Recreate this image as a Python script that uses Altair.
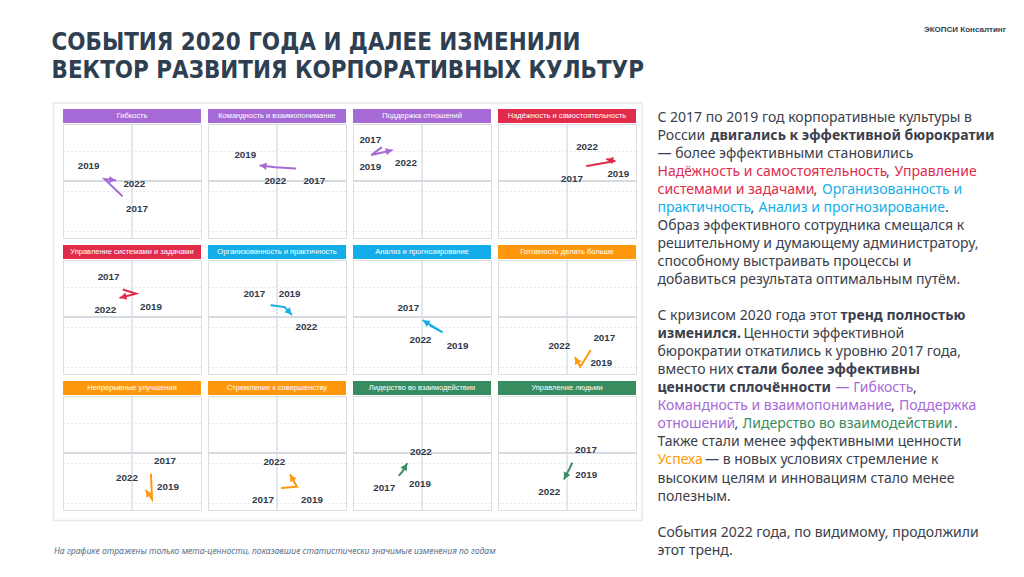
import math
import altair as alt
import pandas as pd

# ---------------- data ----------------
PANELS = [
    "Гибкость", "Командность и взаимопонимание", "Поддержка отношений", "Надёжность и самостоятельность",
    "Управление системами и задачами", "Организованность и практичность", "Анализ и прогнозирование",
    "Готовность делать больше", "Непрерывные улучшения", "Стремление к совершенству",
    "Лидерство во взаимодействии", "Управление людьми",
]
GROUPS = ["cohesion", "cohesion", "cohesion", "bureaucracy", "bureaucracy", "order", "order",
          "success", "success", "success", "leadership", "leadership"]
YEARS = ["2017", "2019", "2022"]
X_VALUES = [
    [-0.58, -1.59, -0.97],
    [1.06, -0.10, -0.97],
    [-2.36, -2.94, -1.74],
    [1.16, 2.80, 2.32],
    [-0.49, 0.23, -0.68],
    [-0.33, 0.44, 0.83],
    [0.48, 1.19, 0.08],
    [1.35, 0.77, 0.48],
    [1.10, 1.16, 0.81],
    [0.29, 1.16, 0.77],
    [-1.32, -1.16, -0.88],
    [0.29, 0.13, -0.16],
]
Y_VALUES = [
    [-1.47, 0.19, 0.07],
    [1.25, 1.38, 1.54],
    [3.34, 2.60, 3.08],
    [1.51, 1.99, 2.18],
    [2.72, 2.34, 1.92],
    [1.18, 0.99, 0.26],
    [-0.87, -1.54, -0.35],
    [-3.37, -4.97, -4.07],
    [-2.14, -4.62, -3.75],
    [-3.49, -3.37, -2.21],
    [-2.21, -1.92, -1.09],
    [-1.03, -1.61, -2.57],
]

TITLE_LINES = ["СОБЫТИЯ 2020 ГОДА И ДАЛЕЕ ИЗМЕНИЛИ", "ВЕКТОР РАЗВИТИЯ КОРПОРАТИВНЫХ КУЛЬТУР"]
BRAND = "ЭКОПСИ Консалтинг"
FOOTNOTE = "На графике отражены только мета-ценности, показавшие статистически значимые изменения по годам"

# right-hand commentary: (line index, [(text, style)])
TEXT_LINES = [
    (0, [("С 2017 по 2019 год корпоративные культуры в", "n")]),
    (1, [("России", "n"), ("двигались к эффективной бюрократии", "b")]),
    (2, [("— более эффективными становились", "n")]),
    (3, [("Надёжность и самостоятельность", "bureaucracy"), (",", "n"), ("Управление", "bureaucracy")]),
    (4, [("системами и задачами", "bureaucracy"), (",", "n"), ("Организованность и", "order")]),
    (5, [("практичность", "order"), (",", "n"), ("Анализ и прогнозирование", "order"), (".", "n")]),
    (6, [("Образ эффективного сотрудника смещался к", "n")]),
    (7, [("решительному и думающему администратору,", "n")]),
    (8, [("способному выстраивать процессы и", "n")]),
    (9, [("добавиться результата оптимальным путём.", "n")]),
    (11, [("С кризисом 2020 года этот", "n"), ("тренд полностью", "b")]),
    (12, [("изменился.", "b"), ("Ценности эффективной", "n")]),
    (13, [("бюрократии откатились к уровню 2017 года,", "n")]),
    (14, [("вместо них", "n"), ("стали более эффективны", "b")]),
    (15, [("ценности сплочённости", "b"), ("— Гибкость", "cohesion"), (",", "n")]),
    (16, [("Командность и взаимопонимание", "cohesion"), (",", "n"), ("Поддержка", "cohesion")]),
    (17, [("отношений", "cohesion"), (",", "n"), ("Лидерство во взаимодействии", "leadership"), (".", "n")]),
    (18, [("Также стали менее эффективными ценности", "n")]),
    (19, [("Успеха", "success"), ("— в новых условиях стремление к", "n")]),
    (20, [("высоким целям и инновациям стало менее", "n")]),
    (21, [("полезным.", "n")]),
    (23, [("События 2022 года, по видимому, продолжили", "n")]),
    (24, [("этот тренд.", "n")]),
]

# ---------------- layout / style ----------------
GROUP_COLORS = {
    "cohesion": "#a66ad6",
    "bureaucracy": "#e12b4b",
    "order": "#13aeea",
    "success": "#ff980d",
    "leadership": "#378c60",
}
TEXT_DARK = "#3a404c"
TITLE_COLOR = "#2f3f52"
LABEL_COLOR = "#2f3949"
GRID_COLOR = "#dde0e6"
ZERO_COLOR = "#d6dae1"

W, H = 138, 114
X_DOMAIN = [-4, 4]
Y_DOMAIN = [-5.7, 5.7]
KX = W / (X_DOMAIN[1] - X_DOMAIN[0])
KY = H / (Y_DOMAIN[1] - Y_DOMAIN[0])

# label nudges in pixels (dx right, dy down) relative to each year's point
LABEL_NUDGE_PX = [
    [(15, 13), (-16, -13), (19, 4)],
    [(19, 12), (-30, -12), (15, 15)],
    [(-11, -8), (-1, 12), (14, 13)],
    [(-15, 13), (3, 13), (-20, -12)],
    [(-15, -13), (15, 13), (-15, 12)],
    [(-17, -11), (5, -13), (15, 13)],
    [(-22, -18), (15, 14), (-3, 19)],
    [(14, -13), (21, -4), (-16, -12)],
    [(14, -13), (16, -12), (-19, -13)],
    [(-19, 12), (15, 13), (-16, -13)],
    [(-15, 13), (18, 12), (14, -12)],
    [(14, -13), (17, 6), (-15, 13)],
]

# page position of first panel's plot area; decorations are placed relative to it
ORIGIN_X, ORIGIN_Y = 62, 123
TEXT_X = 656.5
TEXT_TOP = 116.5
TEXT_STEP = 18.05
SEGMENT_X = {  # page x of segments that do not start a line
    (1, 1): 709.5,
    (3, 1): 885.0, (3, 2): 893.5,
    (4, 1): 812.5, (4, 2): 821.0,
    (5, 1): 749.5, (5, 2): 757.5, (5, 3): 944.0,
    (11, 1): 839.5,
    (12, 1): 742.5,
    (14, 1): 735.5,
    (15, 1): 834.5, (15, 2): 912.0,
    (16, 1): 890.0, (16, 2): 898.0,
    (17, 1): 733.5, (17, 2): 741.5, (17, 3): 953.0,
    (19, 1): 704.0,
}

BODY_FONT = "Noto Sans"
LABEL_FONT = "Liberation Sans"
TITLE_FONT = "DejaVu Sans Condensed"

ONE = pd.DataFrame({"k": [0]})
X_GRID = list(range(-4, 5))
Y_GRID = list(range(-5, 6))


def xenc(field):
    return alt.X(f"{field}:Q", scale=alt.Scale(domain=X_DOMAIN, nice=False, zero=False),
                 axis=alt.Axis(values=X_GRID, grid=True, labels=False, ticks=False, domain=False,
                               title=None, gridDash=[1.5, 2.5], gridColor=GRID_COLOR, gridWidth=1))


def yenc(field):
    return alt.Y(f"{field}:Q", scale=alt.Scale(domain=Y_DOMAIN, nice=False, zero=False),
                 axis=alt.Axis(values=Y_GRID, grid=True, labels=False, ticks=False, domain=False,
                               title=None, gridDash=[1.5, 2.5], gridColor=GRID_COLOR, gridWidth=1))


def deco_text(text, px, py, size, color, font, weight="normal", style="normal", align="left",
              baseline="middle"):
    return alt.Chart(ONE).mark_text(
        text=text, fontSize=size, color=color, font=font, fontWeight=weight, fontStyle=style,
        align=align, baseline=baseline,
    ).encode(x=alt.value(px - ORIGIN_X), y=alt.value(py - ORIGIN_Y))


def decorations():
    layers = []
    # invisible frame that pins the page extent
    layers.append(alt.Chart(ONE).mark_rect(opacity=0).encode(
        x=alt.value(8 - ORIGIN_X), x2=alt.value(1010 - ORIGIN_X),
        y=alt.value(8 - ORIGIN_Y), y2=alt.value(560 - ORIGIN_Y)))
    # light border around the small multiples
    layers.append(alt.Chart(ONE).mark_rect(fillOpacity=0, stroke="#e4e6eb", strokeWidth=1.5).encode(
        x=alt.value(52.5 - ORIGIN_X), x2=alt.value(641 - ORIGIN_X),
        y=alt.value(102 - ORIGIN_Y), y2=alt.value(519.5 - ORIGIN_Y)))
    # title
    for k, line in enumerate(TITLE_LINES):
        layers.append(deco_text(line, 50.5, 48.5 + 28.4 * k, 23.9, TITLE_COLOR, TITLE_FONT,
                                weight="bold", baseline="alphabetic"))
    layers.append(deco_text(BRAND, 1005, 29, 8, TITLE_COLOR, LABEL_FONT, weight="bold", align="right"))
    layers.append(deco_text(FOOTNOTE, 53, 549.5, 8.6, "#5a6f8c", BODY_FONT, style="italic"))
    # commentary
    for li, segs in TEXT_LINES:
        py = TEXT_TOP + TEXT_STEP * li
        for si, (txt, st) in enumerate(segs):
            px = TEXT_X if si == 0 else SEGMENT_X[(li, si)]
            if st == "b":
                layers.append(deco_text(txt, px, py, 14, TEXT_DARK, BODY_FONT, weight="bold"))
            elif st == "n":
                layers.append(deco_text(txt, px, py, 14, TEXT_DARK, BODY_FONT))
            else:
                layers.append(deco_text(txt, px, py, 14, GROUP_COLORS[st], BODY_FONT))
    return layers


def panel(i):
    color = GROUP_COLORS[GROUPS[i]]
    rows = []
    for j, yr in enumerate(YEARS):
        x, y = X_VALUES[i][j], Y_VALUES[i][j]
        ndx, ndy = LABEL_NUDGE_PX[i][j]
        rows.append(dict(year=yr, order=j, x=x, y=y, lx=x + ndx / KX, ly=y - ndy / KY))
    df = pd.DataFrame(rows)

    x19, y19 = X_VALUES[i][1], Y_VALUES[i][1]
    x22, y22 = X_VALUES[i][2], Y_VALUES[i][2]
    dxp = (x22 - x19) * KX
    dyp = -(y22 - y19) * KY
    ang = math.degrees(math.atan2(dyp, dxp)) % 360
    length = math.hypot(dxp, dyp) or 1.0
    back = 3.0
    head = pd.DataFrame([dict(x=x22 - back * dxp / length / KX,
                              y=y22 + back * dyp / length / KY, angle=ang)])

    grid = alt.Chart(df).mark_point(opacity=0).encode(x=xenc("x"), y=yenc("y"))
    vzero = alt.Chart(ONE).mark_rule(color=ZERO_COLOR, strokeWidth=1.2).encode(x=alt.datum(0))
    hzero = alt.Chart(ONE).mark_rule(color=ZERO_COLOR, strokeWidth=2).encode(y=alt.datum(0))
    line = alt.Chart(df).mark_line(color=color, strokeWidth=2, strokeCap="round").encode(
        x=xenc("x"), y=yenc("y"), order="order:Q")
    arrow = alt.Chart(head).mark_point(shape="triangle-right", filled=True, size=55, opacity=1,
                                       color=color).encode(
        x=xenc("x"), y=yenc("y"), angle=alt.Angle("angle:Q", scale=None))
    labels = alt.Chart(df).mark_text(font=LABEL_FONT, fontWeight="bold", fontSize=9.8,
                                     color=LABEL_COLOR, align="center", baseline="middle").encode(
        x=xenc("lx"), y=yenc("ly"), text="year:N")
    header = alt.Chart(ONE).mark_rect(color=color).encode(
        x=alt.value(0), x2=alt.value(W), y=alt.value(-15), y2=alt.value(-1))
    header_text = alt.Chart(ONE).mark_text(text=PANELS[i], color="white", fontSize=7.5, font=LABEL_FONT,
                                           align="center", baseline="middle").encode(
        x=alt.value(W / 2), y=alt.value(-8))

    layers = [grid, vzero, hzero, line, arrow, labels, header, header_text]
    if i == 0:
        layers = decorations() + layers
    return alt.layer(*layers).properties(width=W, height=H)


chart = alt.concat(
    *[panel(i) for i in range(len(PANELS))],
    columns=4,
    spacing={"row": 22, "column": 7},
    bounds="flush",
).properties(padding=0).configure_view(strokeWidth=0).configure(background="white")

chart.save("out.html", embed_options={"renderer": "svg", "actions": False})
